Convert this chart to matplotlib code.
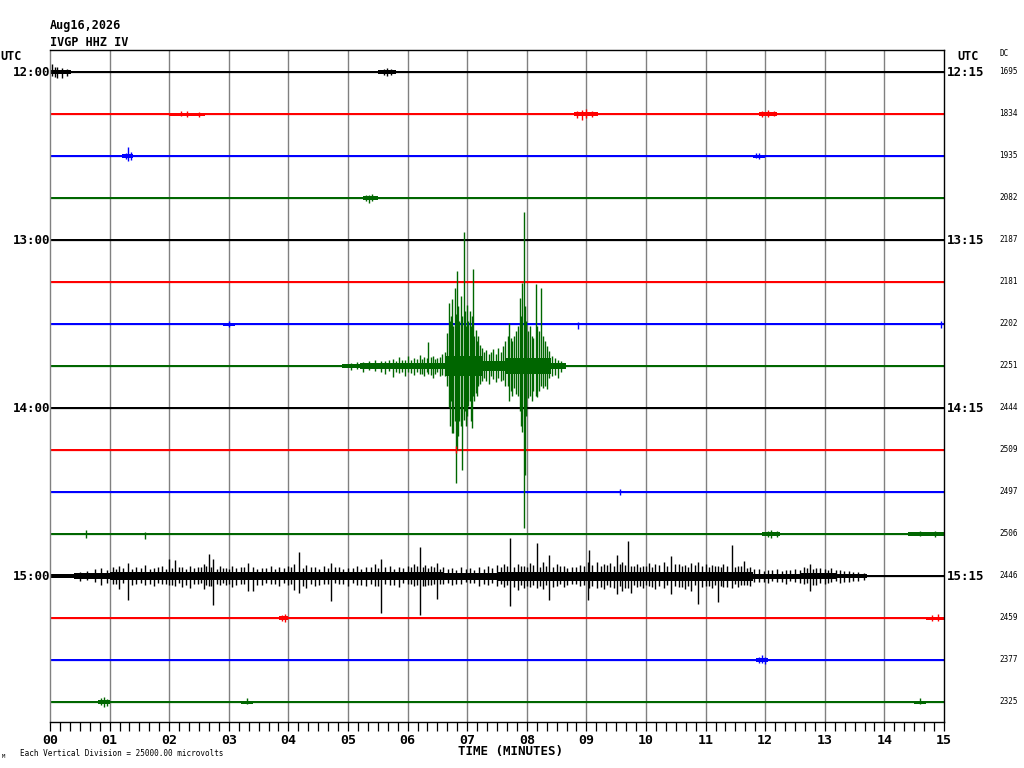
import matplotlib
matplotlib.use('Agg')
import matplotlib.pyplot as plt
from matplotlib.ticker import MultipleLocator

# ---------------- data ----------------
date_label = "Aug16,2026"
station_label = "IVGP HHZ IV"
scale_label = "Each Vertical Division = 25000.00 microvolts"
xlabel = "TIME (MINUTES)"
minute_labels = ["%02d" % m for m in range(16)]
left_hour_labels = {0: "12:00", 4: "13:00", 8: "14:00", 12: "15:00"}
right_hour_labels = {0: "12:15", 4: "13:15", 8: "14:15", 12: "15:15"}
dc_values = [1695, 1834, 1935, 2082, 2187, 2181, 2202, 2251,
             2444, 2509, 2497, 2506, 2446, 2459, 2377, 2325]
trace_colors = ['#000000', '#ff0000', '#0000ff', '#006600']

# amplitudes are in 1/42 of a trace spacing (≈ pixels)
default_hw = 1.15

# noise band segments per trace: (t_start_min, t_end_min, half-width)
fuzz = {
    0: [(0.0, 0.35, 2.2), (5.5, 5.8, 1.6)],
    1: [(2.0, 2.6, 1.5), (8.8, 9.2, 2.0), (11.9, 12.2, 1.6)],
    2: [(1.2, 1.4, 1.6), (11.8, 12.0, 1.5)],
    3: [(5.25, 5.5, 1.6)],
    5: [(0.0, 15.0, 1.3)],
    6: [(2.9, 3.1, 1.5)],
    7: [(4.9, 5.2, 1.8), (5.2, 6.65, 3.2), (6.65, 7.25, 10), (7.25, 7.65, 5),
        (7.65, 8.4, 8), (8.4, 8.65, 3)],
    9: [(0.0, 15.0, 1.35)],
    11: [(11.95, 12.25, 1.8), (14.4, 15.0, 1.5)],
    12: [(0.0, 0.4, 2.0), (0.4, 1.0, 2.8), (1.0, 6.6, 4.0), (6.6, 7.5, 3.5),
         (7.5, 11.8, 4.5), (11.8, 12.6, 2.5), (12.6, 13.2, 3.2),
         (13.2, 13.7, 2.2)],
    13: [(3.85, 4.0, 1.6), (14.7, 15.0, 1.5)],
    14: [(11.85, 12.05, 1.8)],
    15: [(0.8, 1.0, 1.8), (3.2, 3.4, 1.5), (14.5, 14.7, 1.5)],
}

# individual excursions per trace: (t_min, up, down)
spikes = {
    0: [(0.03, 8, 4), (0.08, 5, 5), (0.12, 5, 6), (0.2, 4, 6), (0.28, 3, 4),
        (5.6, 3, 3), (5.65, 4, 4), (5.72, 3, 3)],
    1: [(2.2, 3, 2), (2.3, 3, 3), (2.5, 2, 3), (8.85, 3, 4), (8.92, 4, 6),
        (9.0, 5, 4), (9.1, 3, 3), (11.95, 3, 3), (12.05, 4, 3), (12.15, 3, 2)],
    2: [(1.27, 3, 3), (1.31, 9, 5), (1.36, 4, 4), (11.85, 3, 2), (11.9, 3, 3)],
    3: [(5.3, 3, 3), (5.35, 3, 5), (5.4, 4, 3)],
    6: [(3.0, 3, 3), (8.86, 2, 5), (14.95, 3, 4)],
    7: [(5.05, 3, 4), (5.15, 4, 3), (5.25, 4, 6), (5.35, 5, 4), (5.45, 6, 5),
        (5.55, 5, 6), (5.62, 5, 8), (5.68, 6, 5), (5.75, 7, 11), (5.8, 5, 6),
        (5.85, 9, 7), (5.9, 6, 6), (5.95, 6, 10), (6.0, 10, 6), (6.05, 6, 7),
        (6.1, 8, 9), (6.15, 7, 6), (6.2, 11, 8), (6.24, 7, 8), (6.28, 9, 10),
        (6.32, 8, 6), (6.35, 24, 8), (6.39, 9, 9), (6.42, 10, 12), (6.46, 7, 8),
        (6.5, 8, 6), (6.54, 9, 10), (6.58, 12, 9), (6.63, 14, 10),
        (6.66, 33, 20), (6.69, 63, 41), (6.71, 45, 60), (6.73, 50, 35),
        (6.75, 67, 67), (6.77, 40, 67), (6.79, 78, 55), (6.81, 52, 117),
        (6.83, 95, 84), (6.85, 60, 70), (6.87, 45, 55), (6.89, 70, 60),
        (6.91, 50, 104), (6.94, 134, 54), (6.96, 55, 45), (6.98, 40, 60),
        (7.00, 61, 50), (7.02, 45, 40), (7.04, 55, 35), (7.06, 40, 55),
        (7.08, 50, 62), (7.10, 97, 30), (7.12, 30, 35), (7.14, 36, 27),
        (7.16, 25, 30), (7.18, 30, 20), (7.21, 21, 18), (7.24, 18, 15),
        (7.28, 14, 12), (7.32, 16, 15), (7.36, 12, 18), (7.40, 14, 10),
        (7.44, 17, 13), (7.48, 12, 16), (7.52, 18, 12), (7.56, 14, 15),
        (7.60, 20, 14), (7.64, 25, 20), (7.68, 30, 20), (7.70, 43, 35),
        (7.73, 28, 25), (7.76, 25, 30), (7.79, 30, 22), (7.82, 35, 28),
        (7.85, 40, 30), (7.88, 68, 45), (7.90, 50, 60), (7.92, 83, 66),
        (7.95, 154, 162), (7.97, 60, 109), (7.99, 45, 50), (8.02, 35, 32),
        (8.05, 40, 30), (8.08, 30, 35), (8.11, 28, 25), (8.15, 82, 30),
        (8.17, 40, 31), (8.20, 35, 25), (8.24, 78, 20), (8.27, 30, 22),
        (8.30, 25, 20), (8.34, 20, 23), (8.38, 15, 12), (8.43, 10, 10),
        (8.48, 8, 9), (8.53, 6, 12), (8.58, 5, 6)],
    9: [(6.82, 4, 3)],
    10: [(9.56, 3, 3)],
    11: [(0.6, 4, 4), (1.6, 2, 5), (12.05, 3, 3), (12.1, 4, 4), (12.2, 3, 3),
         (14.6, 3, 2), (14.85, 3, 3)],
    12: [(0.75, 7, 6), (0.85, 8, 9), (1.05, 9, 8), (1.15, 10, 13), (1.31, 13, 24),
         (1.45, 9, 8), (1.6, 11, 9), (1.75, 8, 10), (1.88, 10, 8), (1.99, 17, 9),
         (2.10, 16, 10), (2.22, 9, 11), (2.35, 10, 12), (2.48, 9, 8), (2.58, 12, 13),
         (2.66, 22, 10), (2.74, 17, 29), (2.85, 10, 9), (2.95, 8, 9), (3.05, 10, 11),
         (3.2, 9, 8), (3.33, 13, 15), (3.40, 9, 15), (3.55, 8, 9), (3.7, 10, 8),
         (3.85, 9, 10), (4.0, 10, 9), (4.1, 12, 14), (4.18, 24, 17), (4.3, 11, 12),
         (4.45, 9, 10), (4.6, 10, 8), (4.71, 13, 25), (4.85, 9, 8), (5.0, 8, 10),
         (5.15, 10, 9), (5.3, 9, 10), (5.45, 12, 10), (5.55, 17, 37), (5.7, 10, 9),
         (5.85, 9, 11), (6.0, 10, 8), (6.1, 12, 10), (6.21, 29, 39), (6.3, 11, 10),
         (6.4, 10, 9), (6.49, 13, 23), (6.6, 9, 8), (6.75, 8, 9), (6.9, 9, 8),
         (7.05, 8, 7), (7.2, 9, 10), (7.35, 10, 9), (7.5, 11, 10), (7.62, 12, 11),
         (7.72, 38, 30), (7.85, 12, 14), (7.95, 10, 12), (8.05, 13, 11),
         (8.17, 33, 12), (8.28, 14, 13), (8.38, 21, 24), (8.5, 12, 10),
         (8.62, 10, 11), (8.75, 9, 8), (8.9, 11, 10), (9.02, 14, 24), (9.05, 26, 12),
         (9.18, 14, 12), (9.3, 12, 13), (9.4, 13, 11), (9.51, 21, 18), (9.6, 14, 15),
         (9.70, 35, 12), (9.75, 10, 17), (9.85, 12, 11), (9.95, 10, 12),
         (10.05, 13, 10), (10.15, 12, 13), (10.3, 14, 12), (10.42, 20, 18),
         (10.55, 12, 11), (10.65, 11, 13), (10.75, 13, 15), (10.88, 14, 28),
         (11.0, 12, 10), (11.1, 11, 12), (11.2, 10, 26), (11.3, 12, 11),
         (11.44, 31, 12), (11.55, 10, 11), (11.65, 15, 9), (11.75, 9, 10),
         (11.9, 7, 6), (12.05, 6, 7), (12.2, 7, 6), (12.35, 6, 8), (12.5, 7, 6),
         (12.65, 9, 8), (12.75, 12, 15), (12.85, 8, 9), (13.0, 7, 8), (13.1, 8, 6),
         (13.25, 6, 7), (13.4, 5, 6), (13.55, 4, 5),
         # smaller wiggles between the larger swings
         (0.5, 4, 5), (0.62, 5, 4), (0.95, 6, 7), (1.1, 7, 8), (1.22, 8, 7),
         (1.38, 7, 9), (1.52, 8, 7), (1.68, 7, 8), (1.82, 9, 7), (1.94, 7, 8),
         (2.04, 8, 9), (2.16, 9, 7), (2.28, 7, 9), (2.42, 8, 8), (2.53, 9, 7),
         (2.62, 10, 9), (2.7, 9, 10), (2.8, 7, 8), (2.9, 8, 7), (3.0, 7, 8),
         (3.12, 8, 9), (3.26, 9, 8), (3.47, 7, 9), (3.62, 8, 7), (3.78, 7, 8),
         (3.92, 8, 7), (4.05, 9, 8), (4.24, 8, 10), (4.38, 9, 8), (4.52, 7, 9),
         (4.66, 8, 8), (4.78, 9, 7), (4.92, 7, 8), (5.08, 8, 7), (5.22, 7, 9),
         (5.38, 9, 8), (5.5, 8, 10), (5.62, 9, 8), (5.78, 7, 9), (5.92, 8, 7),
         (6.05, 9, 8), (6.16, 10, 9), (6.26, 9, 10), (6.35, 8, 9), (6.45, 9, 8),
         (6.55, 7, 8), (6.68, 7, 7), (6.82, 6, 8), (6.98, 7, 6), (7.12, 6, 7),
         (7.28, 7, 8), (7.42, 8, 7), (7.56, 9, 8), (7.67, 10, 9), (7.78, 9, 11),
         (7.9, 10, 9), (8.0, 9, 10), (8.1, 11, 9), (8.22, 9, 10), (8.33, 10, 9),
         (8.44, 9, 11), (8.56, 10, 8), (8.68, 8, 9), (8.82, 9, 8), (8.96, 10, 9),
         (9.1, 11, 10), (9.24, 10, 11), (9.35, 11, 9), (9.46, 10, 12), (9.56, 12, 10),
         (9.65, 11, 12), (9.8, 10, 9), (9.9, 9, 10), (10.0, 10, 9), (10.1, 9, 11),
         (10.22, 11, 10), (10.36, 10, 9), (10.48, 12, 10), (10.6, 10, 11),
         (10.7, 9, 10), (10.82, 11, 9), (10.94, 10, 11), (11.05, 9, 10),
         (11.15, 10, 9), (11.25, 9, 10), (11.36, 10, 11), (11.5, 9, 8),
         (11.6, 10, 9), (11.7, 8, 9), (11.82, 7, 6), (11.98, 5, 6), (12.12, 6, 5),
         (12.28, 5, 6), (12.42, 6, 5), (12.58, 6, 7), (12.7, 8, 7), (12.8, 7, 9),
         (12.92, 8, 7), (13.05, 6, 7), (13.18, 6, 5), (13.32, 5, 6), (13.48, 4, 5),
         (13.65, 3, 4)],
    13: [(3.9, 3, 3), (3.94, 4, 4), (14.8, 3, 3), (14.9, 4, 3)],
    14: [(11.9, 3, 3), (11.95, 5, 3), (12.0, 3, 4)],
    15: [(0.85, 4, 3), (0.9, 5, 5), (0.95, 3, 4), (3.3, 4, 2), (14.6, 4, 2)],
}

n_traces = len(dc_values)
duration = 15.0

# ---------------- figure ----------------
W, H = 1024, 768
fig = plt.figure(figsize=(W / 100, H / 100), dpi=100)
fig.patch.set_facecolor('white')
left_px, right_px, top_px, bot_px = 50, 944, 50, 722
ax = fig.add_axes([left_px / W, 1 - bot_px / H,
                   (right_px - left_px) / W, (bot_px - top_px) / H])
spacing_px = 42.0
first_px = 72.0
ytop = (first_px - top_px) / spacing_px
ybot = -(bot_px - first_px) / spacing_px
ax.set_xlim(0, duration)
ax.set_ylim(ybot, ytop)

MONO = ['DejaVu Sans Mono']


def fp(x, y):
    return x / W, 1 - y / H


# grid
for m in range(1, 15):
    ax.axvline(m, color='#808080', lw=1.0, zorder=1)

# traces
for i in range(n_traces):
    y0 = -i
    col = trace_colors[i % 4]
    segs = fuzz.get(i, [])
    bps = sorted(set([0.0, duration] + [s[0] for s in segs] + [s[1] for s in segs]))
    xs, hws = [], []
    for a, b in zip(bps[:-1], bps[1:]):
        mid = 0.5 * (a + b)
        hw = default_hw
        for s in segs:
            if s[0] <= mid <= s[1]:
                hw = max(hw, s[2])
        xs.append(a)
        hws.append(hw)
    xs.append(duration)
    hws.append(hws[-1])
    lo = [y0 - h / spacing_px for h in hws]
    hi = [y0 + h / spacing_px for h in hws]
    ax.fill_between(xs, lo, hi, step='post', color=col, lw=0, zorder=2)
    ax.plot([0, duration], [y0, y0], color=col, lw=0.9, zorder=2)
    sp = spikes.get(i, [])
    if sp:
        ax.vlines([s[0] for s in sp],
                  [y0 - s[2] / spacing_px for s in sp],
                  [y0 + s[1] / spacing_px for s in sp],
                  color=col, lw=1.0, zorder=3)

# spines
for side in ['top', 'right', 'bottom']:
    ax.spines[side].set_color('black')
    ax.spines[side].set_linewidth(1.0)
ax.spines['left'].set_color('#808080')
ax.spines['left'].set_linewidth(1.0)

ax.set_yticks([])
ax.xaxis.set_minor_locator(MultipleLocator(1 / 6))
ax.set_xticks(range(16))
ax.set_xticklabels(minute_labels, fontfamily=MONO, fontweight='bold', fontsize=9.5)
ax.tick_params(axis='x', which='both', direction='out', length=6.5,
               width=0.9, color='black', pad=2)

# header text
fig.text(*fp(50, 26), date_label, fontfamily=MONO, fontweight='bold',
         fontsize=8.5, ha='left', va='center')
fig.text(*fp(50, 42), station_label, fontfamily=MONO, fontweight='bold',
         fontsize=8.5, ha='left', va='center')
fig.text(*fp(0, 57), "UTC", fontfamily=MONO, fontweight='bold',
         fontsize=8.5, ha='left', va='center')
fig.text(*fp(968, 57), "UTC", fontfamily=MONO, fontweight='bold',
         fontsize=8.5, ha='center', va='center')
fig.text(*fp(1000, 54), "DC", fontfamily=MONO, fontsize=5.5,
         ha='left', va='center')

for i in range(n_traces):
    ypx = first_px + spacing_px * i
    if i in left_hour_labels:
        fig.text(*fp(50, ypx), left_hour_labels[i], fontfamily=MONO,
                 fontweight='bold', fontsize=9, ha='right', va='center')
    if i in right_hour_labels:
        fig.text(*fp(947, ypx), right_hour_labels[i], fontfamily=MONO,
                 fontweight='bold', fontsize=9, ha='left', va='center')
    fig.text(*fp(999, ypx), str(dc_values[i]), fontfamily=MONO,
             fontsize=5.5, ha='left', va='center')

fig.text(*fp(510, 752), xlabel, fontfamily=MONO, fontweight='bold',
         fontsize=9, ha='center', va='center')
fig.text(*fp(20, 754), scale_label, fontfamily=MONO, fontsize=5.5,
         ha='left', va='center')
fig.text(*fp(2, 757), "M", fontfamily=MONO, fontsize=4, ha='left', va='center')

fig.savefig('out.png', dpi=100, facecolor='white')
